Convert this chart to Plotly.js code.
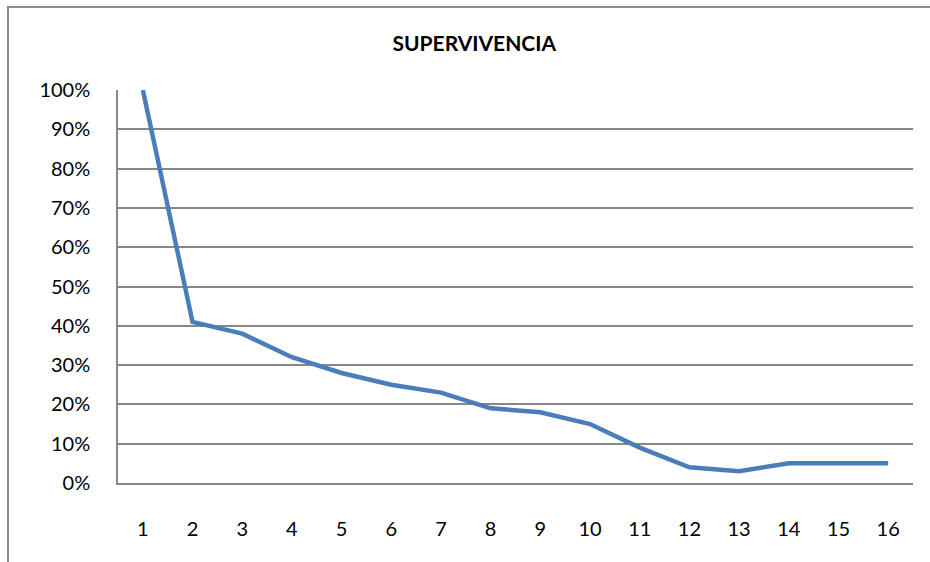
<!DOCTYPE html>
<html>
<head>
<meta charset="utf-8">
<script src="https://cdn.plot.ly/plotly-3.0.1.min.js"></script>
<style>
  body { margin: 0; background: #fff; }
  #chart { width: 930px; height: 562px; }
  #frame {
    position: absolute; left: 7px; top: 6px; width: 940px; height: 570px;
    border-left: 2px solid #8c8c8c; border-top: 2px solid #8c8c8c;
    pointer-events: none;
  }
</style>
</head>
<body>
<div id="chart"></div>
<div id="frame"></div>
<script>
var years = [1, 2, 3, 4, 5, 6, 7, 8, 9, 10, 11, 12, 13, 14, 15, 16];
var survival = [1.00, 0.41, 0.38, 0.32, 0.28, 0.25, 0.23, 0.19, 0.18, 0.15, 0.09, 0.04, 0.03, 0.05, 0.05, 0.05];

var trace = {
  x: years,
  y: survival,
  type: "scatter",
  mode: "lines",
  line: { color: "#4a7ebb", width: 4.5 },
  hoverinfo: "x+y"
};

var layout = {
  width: 930,
  height: 562,
  margin: { l: 118, r: 17, t: 90, b: 79 },
  paper_bgcolor: "#fff",
  plot_bgcolor: "#fff",
  font: { family: "Lato, 'Open Sans', sans-serif", size: 20, color: "#000" },
  title: {
    text: "<b>SUPERVIVENCIA</b>",
    font: { size: 21 },
    x: 0.51, xanchor: "center",
    y: 0.923, yanchor: "middle"
  },
  showlegend: false,
  xaxis: {
    range: [0.5, 16.5],
    tickvals: years,
    showgrid: false,
    zeroline: false,
    showline: true, linecolor: "#878787", linewidth: 1.5,
    ticks: "outside", ticklen: 27, tickcolor: "rgba(0,0,0,0)"
  },
  yaxis: {
    range: [0, 1],
    dtick: 0.1,
    tickformat: ".0%",
    showgrid: true, gridcolor: "#878787", gridwidth: 1.5,
    zeroline: false,
    showline: true, linecolor: "#878787", linewidth: 1.5,
    ticks: "outside", ticklen: 22, tickcolor: "rgba(0,0,0,0)"
  }
};

Plotly.newPlot("chart", [trace], layout, { displayModeBar: false });
</script>
</body>
</html>
